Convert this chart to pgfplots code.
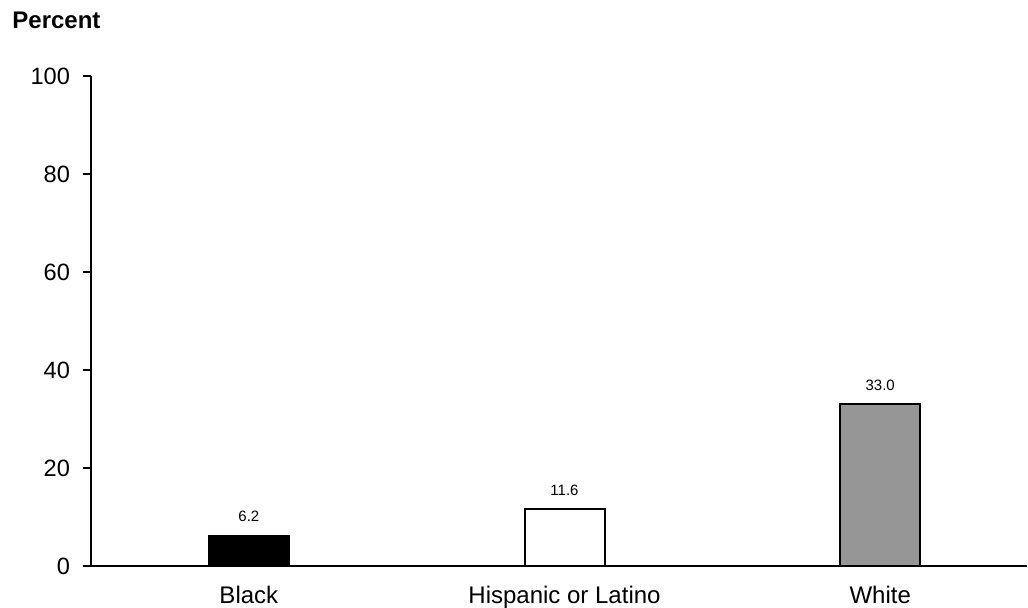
\documentclass[border=0pt]{standalone}
\usepackage{pgfplots}
\pgfplotsset{compat=1.18}
\usepackage{fontspec}
\setmainfont{Liberation Sans}
\begin{document}
\begin{tikzpicture}[x=1pt,y=1pt]
\useasboundingbox (0,0) rectangle (514,303.5);
\node[anchor=west,font=\bfseries\fontsize{12}{14}\selectfont,inner sep=0pt] at (6,293.5) {Percent};
\begin{axis}[
  at={(45.5pt,20.5pt)}, anchor=south west,
  scale only axis, width=468pt, height=245pt,
  xmin=-0.5, xmax=2.465, ymin=0, ymax=100,
  axis lines*=left,
  axis line style={line width=1pt},
  ytick={0,20,40,60,80,100},
  xtick={0,1,2},
  xticklabels={Black,Hispanic or Latino,White},
  x tick label style={font=\fontsize{12}{14}\selectfont, yshift=-2.5pt},
  y tick label style={font=\fontsize{11.8}{14}\selectfont, xshift=-3pt},
  major x tick style={draw=none},
  ytick align=outside, major tick length=4pt,
  tick style={line width=1pt, black},
  /pgf/number format/assume math mode=true,
  ybar, bar width=40pt, bar shift=0pt,
  nodes near coords,
  nodes near coords style={font=\fontsize{7.5}{9}\selectfont, anchor=south, inner sep=0pt, yshift=6.5pt,
    /pgf/number format/.cd, fixed, fixed zerofill, precision=1, assume math mode=true},
  clip=false,
]
\addplot[fill=black, draw=black, line width=1pt] coordinates {(0,6.2)};
\addplot[fill=white, draw=black, line width=1pt] coordinates {(1,11.6)};
\addplot[fill=black!41, draw=black, line width=1pt] coordinates {(2,33.0)};
\end{axis}
\end{tikzpicture}
\end{document}
